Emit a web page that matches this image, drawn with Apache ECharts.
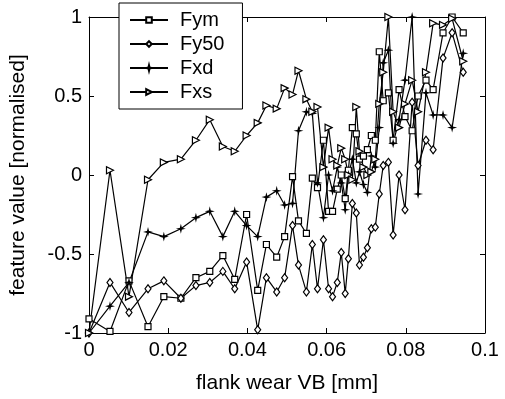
<!DOCTYPE html>
<html>
<head>
<meta charset="utf-8">
<script src="https://cdn.jsdelivr.net/npm/echarts@6/dist/echarts.min.js"></script>
<style>html,body{margin:0;padding:0;background:#fff}#c{width:505px;height:399px}</style>
</head>
<body>
<div id="c"></div>
<script>
var flankWear = [0.0000,0.0053,0.0101,0.0149,0.0189,0.0232,0.0270,0.0305,0.0338,0.0368,0.0398,0.0426,0.0448,0.0474,0.0494,0.0514,0.0529,0.0549,0.0564,0.0577,0.0592,0.0605,0.0615,0.0627,0.0637,0.0647,0.0655,0.0665,0.0675,0.0683,0.0693,0.0703,0.0713,0.0723,0.0733,0.0743,0.0756,0.0768,0.0783,0.0798,0.0816,0.0831,0.0851,0.0869,0.0894,0.0917,0.0945];
var Fym  = [-0.91,-0.99,-0.67,-0.96,-0.77,-0.78,-0.65,-0.61,-0.51,-0.66,-0.25,-0.73,-0.44,-0.52,-0.39,-0.01,-0.29,-0.37,-0.02,-0.08,0.22,-0.23,-0.23,-0.09,0.00,-0.15,0.03,0.30,0.26,0.10,0.12,0.16,0.25,0.22,0.78,0.47,0.52,0.22,0.54,0.37,0.28,0.50,0.60,0.54,0.90,1.00,0.90];
var Fy50 = [-1.00,-0.68,-0.87,-0.72,-0.67,-0.78,-0.70,-0.68,-0.61,-0.72,-0.55,-0.98,-0.65,-0.74,-0.65,-0.32,-0.57,-0.74,-0.44,-0.72,-0.41,-0.72,-0.77,-0.68,-0.49,-0.75,-0.53,-0.18,-0.24,-0.57,-0.52,-0.46,-0.34,-0.33,-0.12,0.06,0.08,-0.38,0.00,-0.22,0.46,0.06,0.22,0.16,0.74,0.90,0.65];
var Fxd  = [-1.00,-0.83,-0.68,-0.36,-0.39,-0.34,-0.27,-0.23,-0.39,-0.23,-0.32,-0.39,-0.14,-0.10,-0.19,-0.18,0.28,0.40,0.39,-0.05,-0.27,0.00,-0.10,0.05,-0.05,-0.22,0.00,0.10,-0.05,0.02,-0.06,-0.11,0.12,0.05,0.30,0.71,0.79,0.20,0.35,0.60,1.00,-0.12,0.52,0.38,0.38,0.30,0.77];
var Fxs  = [-1.00,0.03,-0.77,-0.03,0.08,0.10,0.22,0.35,0.18,0.15,0.25,0.33,0.44,0.42,0.55,0.51,0.66,0.48,0.40,0.43,0.05,0.30,0.10,0.06,0.17,0.10,0.00,-0.03,0.43,0.15,0.05,0.00,0.02,0.10,0.45,0.65,1.00,0.40,0.30,0.45,0.60,0.40,0.65,0.96,0.95,0.99,0.72];
var xTicks = [0, 0.02, 0.04, 0.06, 0.08, 0.1];
var yTicks = [-1, -0.5, 0, 0.5, 1];
var seriesNames = ['Fym', 'Fy50', 'Fxd', 'Fxs'];

var FONT = 'Liberation Sans, Arial, Helvetica, sans-serif';
var starPath = 'path://M0,-10L2,-2L10,0L2,2L0,10L-2,2L-10,0L-2,-2Z';

function pairs(ys) { return flankWear.map(function (x, i) { return [x, ys[i]]; }); }

var markers = {
  Fym:  { symbol: 'rect', size: 6, rotate: 0, fill: '#fff' },
  Fy50: { symbol: 'diamond', size: [6, 8], rotate: 0, fill: '#fff' },
  Fxd:  { symbol: starPath, size: 5, rotate: 0, fill: '#000' },
  Fxs:  { symbol: 'triangle', size: 7, rotate: -90, fill: '#fff' }
};
var dataMap = { Fym: Fym, Fy50: Fy50, Fxd: Fxd, Fxs: Fxs };

var series = seriesNames.map(function (n) {
  var m = markers[n];
  return {
    name: n, type: 'line', data: pairs(dataMap[n]),
    symbol: m.symbol, symbolSize: m.size, symbolRotate: m.rotate, showAllSymbol: true,
    lineStyle: { color: '#000', width: 1.2 },
    itemStyle: { color: m.fill, borderColor: '#000', borderWidth: 1.2 },
    emphasis: { disabled: true }, animation: false, clip: false
  };
});

function axisCommon(extra) {
  var a = {
    type: 'value',
    axisLine: { show: true, onZero: false, lineStyle: { color: '#000', width: 1 } },
    axisTick: { show: true, inside: true, length: 5, lineStyle: { color: '#000' } },
    splitLine: { show: false },
    axisLabel: { show: false }
  };
  for (var k in extra) a[k] = extra[k];
  return a;
}

var option = {
  backgroundColor: '#fff',
  animation: false,
  grid: { left: 88, top: 17, right: 20, bottom: 66, containLabel: false },
  legend: {
    data: seriesNames, orient: 'vertical', left: 119, top: 3,
    itemWidth: 38, itemHeight: 7, itemGap: 4,
    padding: [7, 18, 7, 10],
    backgroundColor: '#fff', borderColor: '#000', borderWidth: 1, borderRadius: 0,
    formatter: function (n) { return '{t|' + n + '}'; },
    textStyle: { color: '#000', fontSize: 20, fontFamily: FONT,
      rich: { t: { fontSize: 20, fontFamily: FONT, color: '#000', padding: [0, 0, 0, 7] } } },
    z: 10
  },
  xAxis: [
    axisCommon({ min: 0, max: 0.1, interval: 0.02, position: 'bottom',
      name: 'flank wear VB [mm]', nameLocation: 'middle', nameGap: 40,
      nameTextStyle: { color: '#000', fontSize: 21, fontFamily: FONT },
      axisLabel: { show: true, color: '#000', fontSize: 20, fontFamily: FONT, margin: 7,
        formatter: function (v) { return xTicks.indexOf(+v.toFixed(2)) >= 0 ? String(+v.toFixed(2)) : ''; } } }),
    axisCommon({ min: 0, max: 0.1, interval: 0.02, position: 'top' })
  ],
  yAxis: [
    axisCommon({ min: -1, max: 1, interval: 0.5, position: 'left',
      name: 'feature value [normalised]', nameLocation: 'middle', nameGap: 60,
      nameTextStyle: { color: '#000', fontSize: 21, fontFamily: FONT },
      axisLabel: { show: true, color: '#000', fontSize: 20, fontFamily: FONT, margin: 7,
        formatter: function (v) { return yTicks.indexOf(+v.toFixed(2)) >= 0 ? String(+v.toFixed(2)) : ''; } } }),
    axisCommon({ min: -1, max: 1, interval: 0.5, position: 'right' })
  ],
  series: series
};

var chart = echarts.init(document.getElementById('c'), null, { renderer: 'canvas' });
chart.setOption(option);
</script>
</body>
</html>
